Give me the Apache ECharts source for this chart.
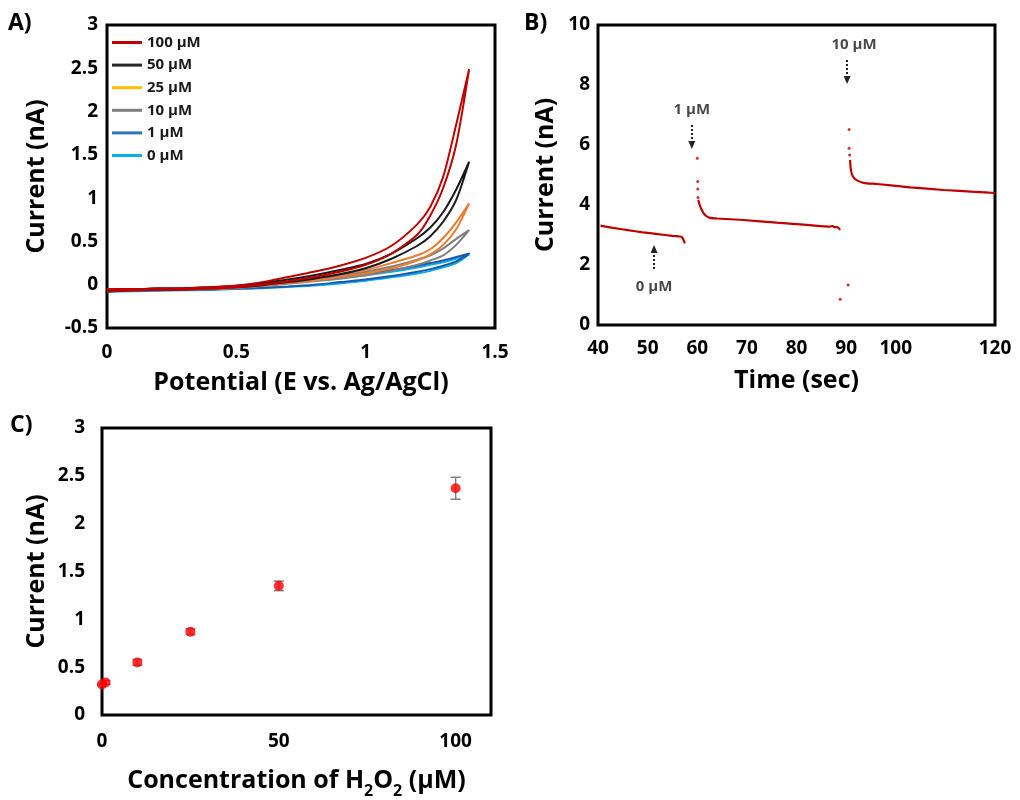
<!DOCTYPE html>
<html>
<head>
<meta charset="utf-8">
<script src="https://cdn.jsdelivr.net/npm/echarts@6/dist/echarts.min.js"></script>
<style>
html,body{margin:0;padding:0;background:#fff;}
#chart{width:1020px;height:800px;}
</style>
</head>
<body>
<div id="chart"></div>
<script>
// ---------- Panel A: cyclic voltammograms ----------
const cvPotential = [0, 0.1, 0.2, 0.3, 0.4, 0.5, 0.6, 0.7, 0.8, 0.9, 1.0, 1.1, 1.2, 1.25, 1.3, 1.35, 1.4];
const cv100Up   = [-0.05,-0.05,-0.045,-0.04,-0.03,-0.01,0.03,0.09,0.15,0.22,0.31,0.45,0.70,0.90,1.25,1.85,2.49];
const cv100Down = [-0.08,-0.065,-0.06,-0.055,-0.045,-0.03,0.0,0.04,0.09,0.15,0.23,0.36,0.58,0.80,1.12,1.62,2.49];
const cv50Up    = [-0.05,-0.05,-0.045,-0.04,-0.03,-0.015,0.02,0.06,0.11,0.17,0.24,0.36,0.54,0.66,0.84,1.10,1.42];
const cv50Down  = [-0.075,-0.065,-0.06,-0.055,-0.045,-0.03,-0.005,0.03,0.07,0.12,0.19,0.30,0.45,0.56,0.73,0.98,1.42];
const cv25Up    = [-0.05,-0.05,-0.045,-0.04,-0.03,-0.02,0.01,0.045,0.08,0.12,0.17,0.25,0.34,0.41,0.54,0.72,0.94];
const cv25Down  = [-0.075,-0.065,-0.06,-0.055,-0.05,-0.035,-0.01,0.02,0.05,0.09,0.13,0.19,0.28,0.35,0.46,0.64,0.94];
const cv10Up    = [-0.05,-0.05,-0.045,-0.04,-0.03,-0.02,0.005,0.035,0.07,0.11,0.15,0.21,0.29,0.34,0.42,0.53,0.63];
const cv10Down  = [-0.075,-0.065,-0.06,-0.055,-0.05,-0.04,-0.015,0.01,0.04,0.07,0.11,0.16,0.23,0.28,0.34,0.46,0.63];
const cv1Up     = [-0.05,-0.05,-0.045,-0.04,-0.035,-0.02,0.0,0.03,0.06,0.09,0.13,0.17,0.22,0.25,0.28,0.32,0.36];
const cv1Down   = [-0.075,-0.07,-0.065,-0.06,-0.055,-0.045,-0.035,-0.02,0.0,0.03,0.06,0.10,0.15,0.18,0.22,0.27,0.36];
const cv0Up     = [-0.055,-0.055,-0.05,-0.045,-0.04,-0.03,-0.01,0.02,0.05,0.08,0.11,0.15,0.20,0.23,0.26,0.30,0.35];
const cv0Down   = [-0.08,-0.075,-0.07,-0.065,-0.06,-0.05,-0.04,-0.025,-0.01,0.015,0.045,0.085,0.13,0.16,0.20,0.25,0.35];
const cvNames   = ['100 µM', '50 µM', '25 µM', '10 µM', '1 µM', '0 µM'];

// ---------- Panel B: amperometric response ----------
const bSeg1Time = [40.5, 43, 46, 49, 52, 55, 56.5, 56.9, 57.2, 57.5];
const bSeg1Curr = [3.31, 3.24, 3.16, 3.09, 3.03, 2.97, 2.95, 2.93, 2.85, 2.72];
const bSeg2Time = [60.2, 60.5, 60.9, 61.4, 61.9, 62.6, 64, 69.3, 76, 82.7, 86.7, 87.3, 87.6, 88.2, 88.8];
const bSeg2Curr = [4.17, 4.0, 3.83, 3.7, 3.62, 3.57, 3.55, 3.50, 3.41, 3.33, 3.28, 3.30, 3.26, 3.26, 3.17];
const bSeg3Time = [90.8, 90.9, 91.1, 91.5, 92.1, 93.5, 96.2, 102.9, 109.6, 116, 120];
const bSeg3Curr = [5.5, 5.25, 5.06, 4.92, 4.83, 4.74, 4.70, 4.59, 4.50, 4.44, 4.40];
const bDotTime  = [60.0, 60.1, 60.1, 60.15, 88.8, 90.4, 90.1, 90.6, 90.6, 90.7];
const bDotCurr  = [5.56, 4.78, 4.53, 4.25, 0.86, 1.33, 8.19, 6.52, 5.89, 5.67];
const bNoteText = ['0 µM', '1 µM', '10 µM'];
const bNoteTime = [51.3, 58.9, 91.6];
const bNoteCurr = [1.27, 7.17, 9.33];
const bArrowTime = [51.3, 58.9, 90.2];
const bArrowFrom = [1.87, 6.67, 8.83];
const bArrowTo   = [2.53, 6.0, 8.17];
const bHiddenTicks = [110];

// ---------- Panel C: calibration ----------
const cConc = [0, 1, 10, 25, 50, 100];
const cCurr = [0.32, 0.34, 0.55, 0.87, 1.35, 2.37];
const cErr  = [0.01, 0.02, 0.03, 0.03, 0.05, 0.115];

const FONT = '"Open Sans", Lato, sans-serif';
const cvColors = ['#c00000', '#1a1a1a', '#ed7d31', '#7f7f7f', '#2058a8', '#00b0f0'];
const legendColors = ['#c00000', '#262626', '#ffc000', '#808080', '#2e75b6', '#00b0f0'];
const cvUp = [cv100Up, cv50Up, cv25Up, cv10Up, cv1Up, cv0Up];
const cvDown = [cv100Down, cv50Down, cv25Down, cv10Down, cv1Down, cv0Down];

function loop(up, down) {
  const d = up.map((v, i) => [cvPotential[i], v]);
  for (let i = down.length - 2; i >= 0; i--) d.push([cvPotential[i], down[i]]);
  return d;
}
function zip(a, b) { return a.map((v, i) => [v, b[i]]); }

const tickLabel = {fontFamily: FONT, fontWeight: 'bold', fontSize: 19, color: '#000'};
const nameStyle = {fontFamily: FONT, fontWeight: 'bold', fontSize: 25, color: '#000'};

function xAx(grid, min, max, interval, name, extra) {
  return Object.assign({
    type: 'value', gridIndex: grid, min: min, max: max, interval: interval,
    axisLine: {show: false}, axisTick: {show: false}, splitLine: {show: false},
    axisLabel: Object.assign({margin: 15}, tickLabel),
    name: name, nameLocation: 'middle', nameGap: 42, nameTextStyle: nameStyle
  }, extra || {});
}
function yAx(grid, min, max, interval, name, extra) {
  return Object.assign({
    type: 'value', gridIndex: grid, min: min, max: max, interval: interval,
    axisLine: {show: false}, axisTick: {show: false}, splitLine: {show: false},
    axisLabel: Object.assign({margin: 9}, tickLabel),
    name: name, nameLocation: 'middle', nameGap: 58, nameTextStyle: nameStyle
  }, extra || {});
}

const series = [];
// Panel A series drawn 0 µM first so 100 µM sits on top
for (let k = cvNames.length - 1; k >= 0; k--) {
  series.push({
    name: cvNames[k], type: 'line', xAxisIndex: 0, yAxisIndex: 0,
    data: loop(cvUp[k], cvDown[k]), showSymbol: false, smooth: 0.25,
    lineStyle: {width: 2, color: cvColors[k]}, itemStyle: {color: cvColors[k]}
  });
}
// Panel B
[[bSeg1Time, bSeg1Curr], [bSeg2Time, bSeg2Curr], [bSeg3Time, bSeg3Curr]].forEach(s => {
  series.push({
    type: 'line', xAxisIndex: 1, yAxisIndex: 1, data: zip(s[0], s[1]),
    showSymbol: false, smooth: 0.2, lineStyle: {width: 2.2, color: '#c00000'}
  });
});
series.push({
  type: 'scatter', xAxisIndex: 1, yAxisIndex: 1, data: zip(bDotTime, bDotCurr),
  symbolSize: 3, itemStyle: {color: '#c00000'}
});
series.push({
  type: 'line', xAxisIndex: 1, yAxisIndex: 1, data: [], silent: true,
  markLine: {
    silent: true, symbol: ['none', 'triangle'], symbolSize: [7, 8],
    lineStyle: {type: [2, 2], width: 2, color: '#222'}, label: {show: false},
    data: bArrowTime.map((t, i) => [{coord: [t, bArrowFrom[i]]}, {coord: [t, bArrowTo[i]]}])
  }
});
series.push({
  type: 'scatter', xAxisIndex: 1, yAxisIndex: 1, symbolSize: 0, silent: true,
  data: bNoteTime.map((t, i) => ({value: [t, bNoteCurr[i]], name: bNoteText[i]})),
  label: {show: true, position: 'inside', formatter: p => p.name,
          fontFamily: FONT, fontWeight: 'bold', fontSize: 15, color: '#1a1a1a'}
});
// Panel C
series.push({
  type: 'custom', xAxisIndex: 2, yAxisIndex: 2,
  data: cConc.map((c, i) => [c, cCurr[i], cErr[i]]),
  renderItem: function (params, api) {
    const x = api.value(0), y = api.value(1), e = api.value(2);
    const top = api.coord([x, y + e]), bot = api.coord([x, y - e]);
    const w = 5;
    const st = {stroke: '#7f7f7f', lineWidth: 1.5};
    return {type: 'group', children: [
      {type: 'line', shape: {x1: top[0], y1: top[1], x2: bot[0], y2: bot[1]}, style: st},
      {type: 'line', shape: {x1: top[0] - w, y1: top[1], x2: top[0] + w, y2: top[1]}, style: st},
      {type: 'line', shape: {x1: bot[0] - w, y1: bot[1], x2: bot[0] + w, y2: bot[1]}, style: st}
    ]};
  }
});
series.push({
  type: 'scatter', xAxisIndex: 2, yAxisIndex: 2, clip: false,
  data: zip(cConc, cCurr), symbolSize: 10, itemStyle: {color: '#ff0000'}
});

const gridStyle = {show: true, borderColor: '#000', borderWidth: 3, backgroundColor: 'transparent', containLabel: false};

const option = {
  animation: false,
  backgroundColor: '#fff',
  textStyle: {fontFamily: FONT},
  grid: [
    Object.assign({left: 107, top: 25, width: 388, height: 303}, gridStyle),
    Object.assign({left: 598, top: 25, width: 397, height: 300}, gridStyle),
    Object.assign({left: 102, top: 428, width: 389, height: 299}, gridStyle)
  ],
  xAxis: [
    xAx(0, 0, 1.5, 0.5, 'Potential (E vs. Ag/AgCl)'),
    xAx(1, 40, 120, 10, 'Time (sec)', {
      axisLabel: Object.assign({margin: 14, formatter: v => bHiddenTicks.indexOf(v) >= 0 ? '' : String(v)}, tickLabel),
      nameGap: 43
    }),
    xAx(2, 0, 110, 50, '{a|Concentration of H}{s|2}{a|O}{s|2}{a| (µM)}', {
      axisLabel: Object.assign({margin: 17, showMaxLabel: false}, tickLabel),
      nameGap: 48,
      nameTextStyle: {
        rich: {
          a: {fontFamily: FONT, fontWeight: 'bold', fontSize: 25, color: '#000', lineHeight: 30, verticalAlign: 'bottom'},
          s: {fontFamily: FONT, fontWeight: 'bold', fontSize: 16, color: '#000', lineHeight: 30, verticalAlign: 'bottom', padding: [0, 0, -6, 0]}
        }
      }
    })
  ],
  yAxis: [
    yAx(0, -0.5, 3, 0.5, 'Current (nA)'),
    yAx(1, 0, 10, 2, 'Current (nA)', {axisLabel: Object.assign({margin: 8}, tickLabel), nameGap: 40}),
    yAx(2, 0, 3, 0.5, 'Current (nA)', {axisLabel: Object.assign({margin: 17}, tickLabel), nameGap: 53})
  ],
  legend: {
    left: 112, top: 35, orient: 'vertical', padding: 0,
    icon: 'rect', itemWidth: 30, itemHeight: 3, itemGap: 7.6,
    textStyle: {fontFamily: FONT, fontWeight: 'bold', fontSize: 15, lineHeight: 15, color: '#1a1a1a'},
    data: cvNames.map((n, i) => ({name: n, itemStyle: {color: legendColors[i]}}))
  },
  graphic: [
    {type: 'text', left: 8, top: 12, style: {text: 'A)', font: 'bold 23px ' + FONT, fill: '#000'}},
    {type: 'text', left: 524, top: 12, style: {text: 'B)', font: 'bold 23px ' + FONT, fill: '#000'}},
    {type: 'text', left: 10, top: 414, style: {text: 'C)', font: 'bold 23px ' + FONT, fill: '#000'}}
  ],
  series: series
};

const chart = echarts.init(document.getElementById('chart'), null, {renderer: 'canvas'});
chart.setOption(option);
</script>
</body>
</html>
